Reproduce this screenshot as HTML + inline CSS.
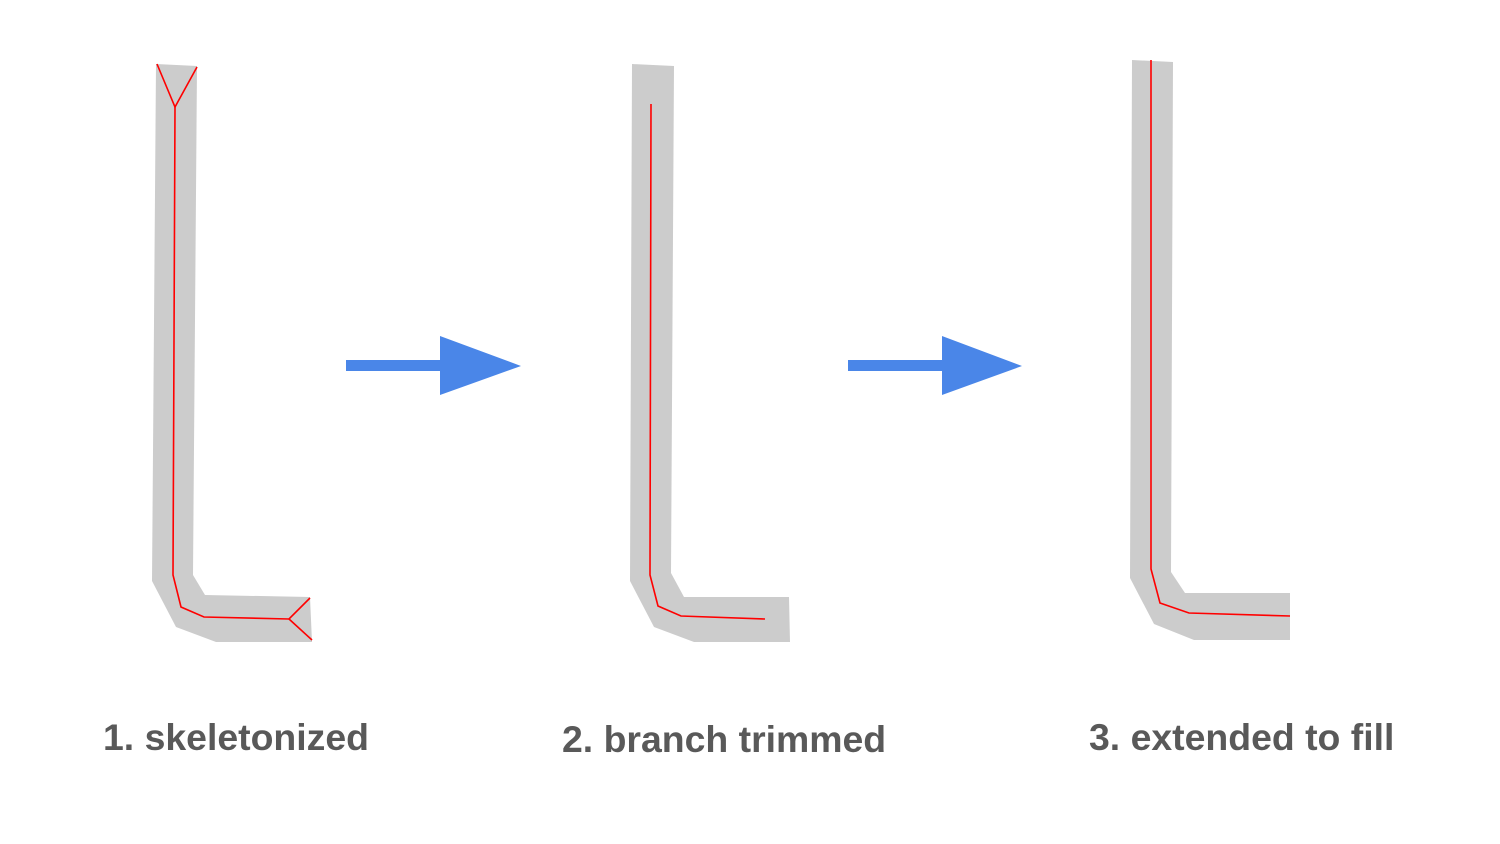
<!DOCTYPE html>
<html><head><style>
body{margin:0;background:#fff;}
svg{display:block}
text{font-family:"Liberation Sans",sans-serif;font-weight:bold;font-size:37.4px;fill:#595959}
</style></head><body>
<svg width="1500" height="844" viewBox="0 0 1500 844">
<g fill="#cccccc">
<polygon points="156,64 197,66 193,575 205,595 310,597 312,642 216,642 176,627 152,581"/>
<polygon points="632,64 674,66 671,573 684,597 789,597 790,642 694,642 654,627 630,581"/>
<polygon points="1132,60 1173,62 1171,572 1185,593 1290,593 1290,640 1194,640 1154,624 1130,578"/>
</g>
<g fill="none" stroke="#ff0000" stroke-width="1.6">
<polyline points="157,64 175,107 197,67"/>
<polyline points="175,107 173,575 181,607 204,617 289,619 310,598"/>
<polyline points="289,619 312,640"/>
<polyline points="651,104 650,575 658,606 681,616 765,619"/>
<polyline points="1151,60 1151,569 1160,603 1189,613 1290,616"/>
</g>
<g fill="#4a86e8">
<polygon points="346,360 440,360 440,336 521,366 440,395 440,371 346,371"/>
<polygon points="848,360 942,360 942,336 1022,366 942,395 942,371 848,371"/>
</g>
<text x="103" y="750">1. skeletonized</text>
<text x="562" y="752">2. branch trimmed</text>
<text x="1089" y="750">3. extended to fill</text>
</svg>
</body></html>
